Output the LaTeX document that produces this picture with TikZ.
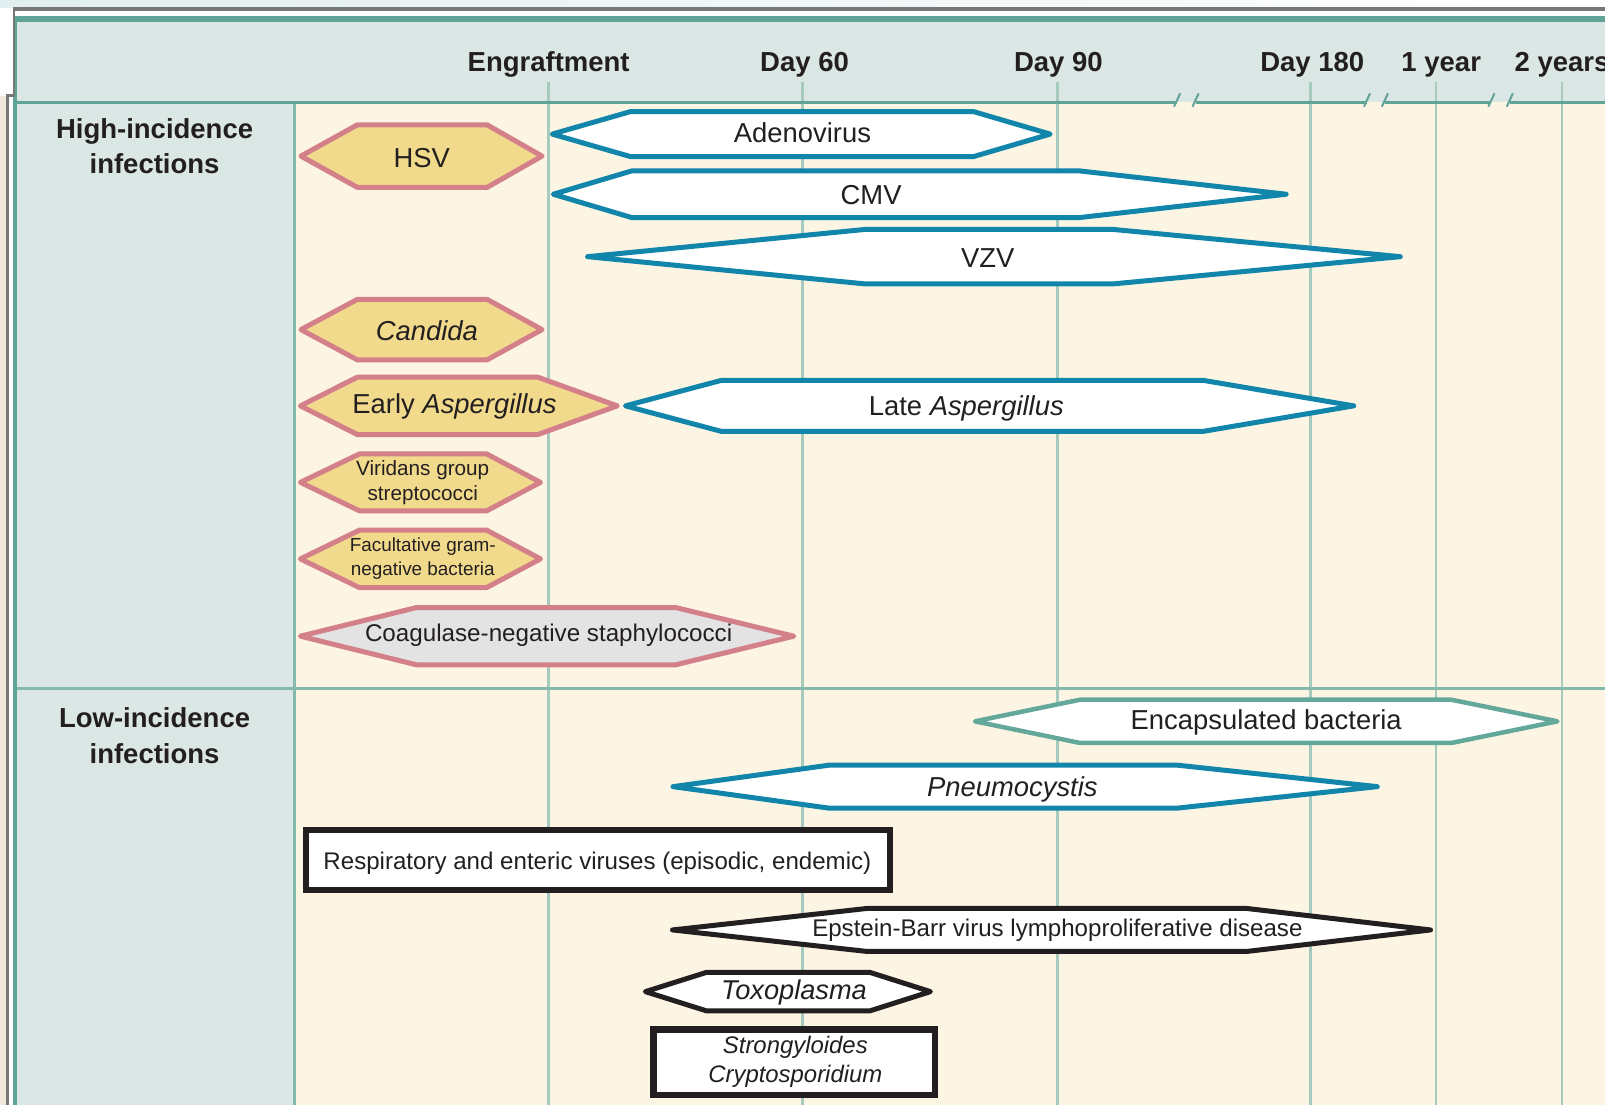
\documentclass[tikz,border=0pt]{standalone}
\usepackage{fontspec}
\setmainfont{Liberation Sans}
\definecolor{hdrfill}{HTML}{DBE7E4}
\definecolor{cream}{HTML}{FCF5E3}
\definecolor{gridc}{HTML}{A7CABE}
\definecolor{tealf}{HTML}{5FA496}
\definecolor{sepc}{HTML}{84B9AB}
\definecolor{grayf}{HTML}{777777}
\definecolor{beigec}{HTML}{F1E7DA}
\definecolor{topstrip}{HTML}{E1EEF0}
\definecolor{yelf}{HTML}{F2DA8C}
\definecolor{pinkb}{HTML}{D3808A}
\definecolor{blueb}{HTML}{1186AA}
\definecolor{greyfill}{HTML}{E4E3E3}
\definecolor{encb}{HTML}{63A89A}
\definecolor{txt}{HTML}{231F20}
\newcommand\hexbar[7]{\draw[#1] (#2,{(#6+#7)/2}) -- (#3,#6) -- (#4,#6) -- (#5,{(#6+#7)/2}) -- (#4,#7) -- (#3,#7) -- cycle;}
\begin{document}
\begin{tikzpicture}[x=1.023597pt,y=-1.023597pt,
  every node/.style={text=txt, inner sep=0pt, anchor=base},
  hdr/.style={font=\bfseries\fontsize{27.5}{33}\selectfont},
  side/.style={font=\bfseries\fontsize{27.5}{33}\selectfont},
  lab/.style={font=\fontsize{27.4}{32}\selectfont},
  labi/.style={font=\itshape\fontsize{27.4}{32}\selectfont},
  mid/.style={font=\fontsize{24.1}{29}\selectfont},
  midi/.style={font=\itshape\fontsize{23.9}{29}\selectfont},
  yhex/.style={fill=yelf, draw=pinkb, line width=5pt, line join=round},
  bhex/.style={fill=white, draw=blueb, line width=5pt, line join=round},
  ghex/.style={fill=greyfill, draw=pinkb, line width=5pt, line join=round},
  thex/.style={fill=white, draw=encb, line width=4.5pt, line join=round},
  khex/.style={fill=white, draw=txt, line width=5pt, line join=round},
  kbox/.style={fill=white, draw=txt, line width=6.5pt},
  gridline/.style={draw=gridc, line width=2.5pt},
  hline/.style={draw=tealf, line width=3.5pt}]
\useasboundingbox (0,0) rectangle (1568,1079.53);
% background and frame
\fill[white] (0,0) rectangle (1568,1079.53);
\shade[left color=topstrip, right color=white] (0,0) rectangle (1568,7.2);
\fill[beigec] (0,93.3) rectangle (6,1079.53);
\fill[hdrfill] (16.9,18.6) rectangle (1568,100);
\fill[hdrfill] (16.9,100) rectangle (287.5,1079.53);
\fill[cream] (287.5,100) rectangle (1568,1079.53);
% time lines
\foreach \t in {536,784,1033,1280.5,1403,1526}
  \draw[gridline] (\t,80) -- (\t,1079.53);
% separators
\draw[draw=sepc, line width=3pt] (287.5,100) -- (287.5,1079.53);
\draw[draw=sepc, line width=2.5pt] (16.9,672.4) -- (1568,672.4);
% header base line with breaks
\draw[hline] (15,100) -- (1150,100) (1168,100) -- (1335.5,100) (1353,100) -- (1457,100) (1475,100) -- (1568,100);
\foreach \b in {1150,1168,1335.5,1353,1457,1475}
  \draw[draw=tealf, line width=2pt] (\b-3,104.2) -- (\b+3,91.2);
% outer frame
\draw[draw=tealf, line width=6pt] (13.5,18.6) -- (1568,18.6);
\draw[draw=tealf, line width=4pt] (15.1,15.6) -- (15.1,1079.53);
\draw[draw=grayf, line width=3.3pt] (12.6,8.8) -- (1568,8.8);
\draw[draw=grayf, line width=2pt] (14,7.2) -- (14,94.8);
\draw[draw=grayf, line width=2.7pt] (5.9,93.3) -- (14.9,93.3);
\draw[draw=grayf, line width=2.7pt] (7.2,92) -- (7.2,1079.53);
% header labels
\node[hdr] (engr) at (536,70) {Engraftment};
\node[hdr] (d60) at (786,70) {Day 60};
\node[hdr] (d90) at (1034,70) {Day 90};
\node[hdr] (d180) at (1282,70) {Day 180};
\node[hdr] (y1) at (1408,70) {1 year};
\node[hdr] (y2) at (1526,70) {2 years};
% side labels
\node[side] (higha) at (151,135) {High-incidence};
\node[side] (highb) at (151,169.8) {infections};
\node[side] (lowa) at (151,710.6) {Low-incidence};
\node[side] (lowb) at (151,746.3) {infections};
% high-incidence infections
\hexbar{yhex}{294}{349}{476}{529.5}{122}{183}
\node[lab] (hsv) at (412,163.6) {HSV};
\hexbar{bhex}{539.5}{616}{951}{1026}{109}{153}
\node[lab] (adeno) at (784,139.6) {Adenovirus};
\hexbar{bhex}{540.5}{617}{1055}{1256.5}{167}{212.5}
\node[lab] (cmv) at (851,200.1) {CMV};
\hexbar{bhex}{574}{844.5}{1088}{1368}{224.2}{277.3}
\node[lab] (vzv) at (965,261.2) {VZV};
\hexbar{yhex}{294}{349}{476}{529.5}{292.5}{351.5}
\node[labi] (cand) at (417,333.1) {Candida};
\hexbar{yhex}{293.5}{349}{525.5}{603}{368.5}{424.5}
\node[lab] (easp) at (444,403.6) {Early \textit{Aspergillus}};
\hexbar{bhex}{611}{705}{1175}{1322.5}{371.5}{421.5}
\node[lab] (lasp) at (944,405.6) {Late \textit{Aspergillus}};
\hexbar{yhex}{293.5}{351}{475.5}{528}{443.5}{499}
\node[font=\fontsize{20.7}{24}\selectfont] (vira) at (413,464.9) {Viridans group};
\node[font=\fontsize{20.7}{24}\selectfont] (virb) at (413,489.2) {streptococci};
\hexbar{yhex}{293.5}{351}{475.5}{528}{518}{574}
\node[font=\fontsize{18.9}{22}\selectfont] (faca) at (413,539.2) {Facultative gram-};
\node[font=\fontsize{18.9}{22}\selectfont] (facb) at (413,562) {negative bacteria};
\hexbar{ghex}{293.5}{407}{660}{775.5}{593.5}{649.5}
\node[font=\fontsize{24.2}{29}\selectfont] (coag) at (536,627.1) {Coagulase-negative staphylococci};
% low-incidence infections
\hexbar{thex}{952.5}{1055}{1418}{1521.5}{683.6}{725.8}
\node[lab] (encap) at (1237,713) {Encapsulated bacteria};
\hexbar{bhex}{657.5}{810}{1150}{1345.5}{747.5}{789.5}
\node[labi] (pneumo) at (989,778.1) {Pneumocystis};
\draw[kbox] (298.9,810.8) rectangle (869.4,869.5);
\node[mid] (resp) at (583.6,849.4) {Respiratory and enteric viruses (episodic, endemic)};
\hexbar{khex}{657}{847}{1218}{1397.5}{887.5}{929.5}
\node[mid] (ebv) at (1033,915) {Epstein-Barr virus lymphoproliferative disease};
\hexbar{khex}{630.5}{690}{850}{909}{950}{987.5}
\node[font=\itshape\fontsize{27.2}{32}\selectfont] (toxo) at (775.7,976.5) {Toxoplasma};
\draw[kbox] (638.2,1005.6) rectangle (913.2,1069.8);
\node[midi] (stra) at (777,1029.4) {Strongyloides};
\node[midi] (strb) at (777,1057.4) {Cryptosporidium};
\end{tikzpicture}
\end{document}
